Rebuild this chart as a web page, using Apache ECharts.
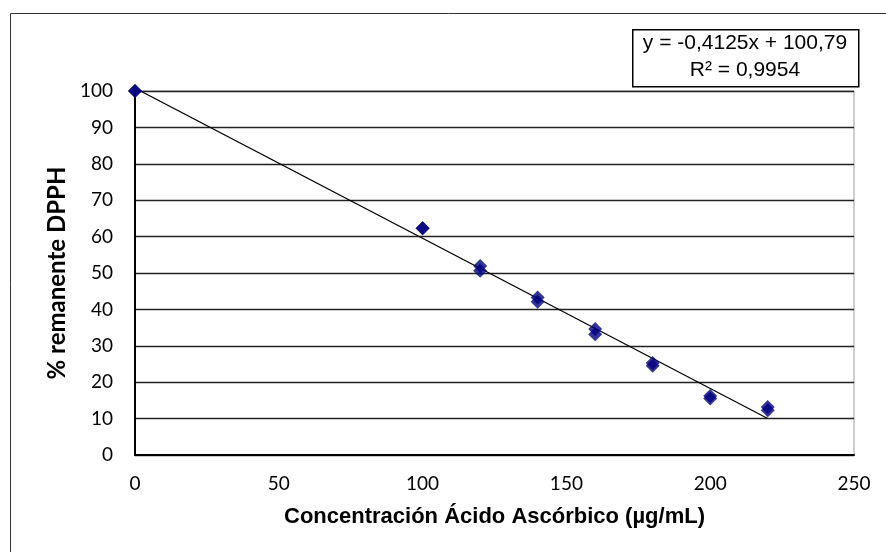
<!DOCTYPE html>
<html>
<head>
<meta charset="utf-8">
<script src="https://cdn.jsdelivr.net/npm/echarts@6/dist/echarts.min.js"></script>
<style>
html,body{margin:0;padding:0;background:#fff;}
#chart{width:886px;height:552px;}
</style>
</head>
<body>
<div id="chart"></div>
<script>
var concentrations = [0, 100, 120, 140, 160, 180, 200, 220];
var replicate1 = [100, 62.3, 51.9, 43.3, 34.6, 25.3, 16.2, 13.2];
var replicate2 = [100, 62.3, 50.6, 42.1, 33.2, 24.5, 15.5, 12.3];
var trendSlope = -0.4125;
var trendIntercept = 100.79;
var trendRange = [0, 220];
var equationLines = ['y = -0,4125x + 100,79', 'R² = 0,9954'];
var xTitle = 'Concentración Ácido Ascórbico (µg/mL)';
var yTitle = '% remanente DPPH';

function pairs(xs, ys) { return xs.map(function (x, i) { return [x, ys[i]]; }); }
var trendData = trendRange.map(function (x) { return [x, trendSlope * x + trendIntercept]; });

var chart = echarts.init(document.getElementById('chart'), null, {renderer: 'canvas'});
var labelFont = 'Lato, "Open Sans", sans-serif';
var titleFont = '"Liberation Sans", Arial, sans-serif';
var markerStyle = {color: '#000080'};
chart.setOption({
  animation: false,
  backgroundColor: '#fff',
  grid: {left: 135, right: 32, top: 91, bottom: 97, show: true, borderColor: '#9a9a9a', borderWidth: 1},
  xAxis: {
    type: 'value', min: 0, max: 250, interval: 50,
    axisLine: {show: true, onZero: false, lineStyle: {color: '#000', width: 2}},
    axisTick: {show: false},
    splitLine: {show: false},
    axisLabel: {color: '#000', fontSize: 19, fontFamily: labelFont, margin: 19},
    name: xTitle, nameLocation: 'middle', nameGap: 51,
    nameTextStyle: {color: '#000', fontSize: 22, fontWeight: 'bold', fontFamily: titleFont}
  },
  yAxis: {
    type: 'value', min: 0, max: 100, interval: 10,
    axisLine: {show: true, onZero: false, lineStyle: {color: '#000', width: 2}},
    axisTick: {show: false},
    splitLine: {show: true, lineStyle: {color: '#222', width: 1.3}},
    axisLabel: {color: '#000', fontSize: 19, fontFamily: labelFont, margin: 22},
    name: yTitle, nameLocation: 'middle', nameGap: 66, nameRotate: 90,
    nameTextStyle: {color: '#000', fontSize: 24, fontWeight: 'bold', fontFamily: labelFont}
  },
  series: [
    {type: 'line', data: trendData, symbol: 'none', lineStyle: {color: '#000', width: 1.2}, z: 2, silent: true},
    {type: 'scatter', data: pairs(concentrations, replicate1), symbol: 'diamond', symbolSize: 14, itemStyle: markerStyle, z: 3},
    {type: 'scatter', data: pairs(concentrations, replicate2), symbol: 'diamond', symbolSize: 14, itemStyle: markerStyle, z: 3}
  ],
  graphic: [
    {type: 'rect', left: 8, top: 11, shape: {width: 900, height: 560}, style: {fill: 'none', stroke: '#333', lineWidth: 1}, z: 0, silent: true},
    {type: 'rect', left: 632, top: 29, shape: {width: 226, height: 57}, style: {fill: '#fff', stroke: '#000', lineWidth: 1.5}, z: 10},
    {type: 'text', x: 745, y: 57, z: 11, style: {text: equationLines.join('\n'), fill: '#000', font: '21px "Liberation Sans", Arial, sans-serif', align: 'center', verticalAlign: 'middle', lineHeight: 27}}
  ]
});
</script>
</body>
</html>
